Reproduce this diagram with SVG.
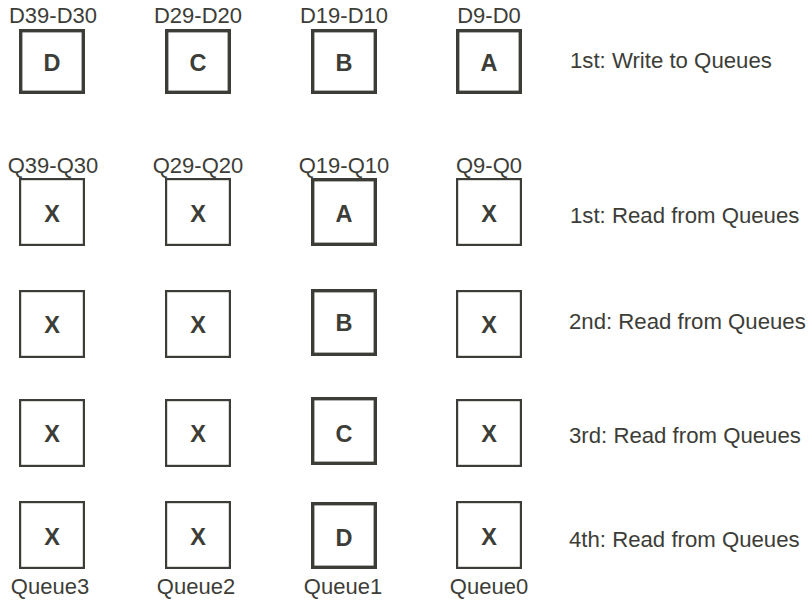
<svg xmlns="http://www.w3.org/2000/svg" width="812" height="601" viewBox="0 0 812 601">
<style>
.thin{fill:#fff;stroke:#3d3d38;stroke-width:2.2}
.thick{fill:#fff;stroke:#3d3d38;stroke-width:3.4}
.lbl{font-family:"Liberation Sans",Arial,sans-serif;font-size:22px;fill:#3d3d38;text-anchor:middle}
.side{font-family:"Liberation Sans",Arial,sans-serif;font-size:22.2px;fill:#3d3d38}
.big{font-family:"Liberation Sans",Arial,sans-serif;font-size:23.5px;font-weight:bold;fill:#3d3d38;text-anchor:middle}
</style>
<rect width="812" height="601" fill="#fff"/>
<g id="labels-top">
<text class="lbl" x="53" y="23">D39-D30</text>
<text class="lbl" x="198" y="23">D29-D20</text>
<text class="lbl" x="344" y="23">D19-D10</text>
<text class="lbl" x="489" y="23">D9-D0</text>
<text class="lbl" x="53" y="173">Q39-Q30</text>
<text class="lbl" x="198" y="173">Q29-Q20</text>
<text class="lbl" x="344" y="173">Q19-Q10</text>
<text class="lbl" x="489" y="173">Q9-Q0</text>
<text class="lbl" x="50" y="594">Queue3</text>
<text class="lbl" x="196" y="594">Queue2</text>
<text class="lbl" x="343" y="594">Queue1</text>
<text class="lbl" x="489" y="594">Queue0</text>
</g>
<g id="labels-side">
<text class="side" x="570" y="68">1st: Write to Queues</text>
<text class="side" x="570" y="223">1st: Read from Queues</text>
<text class="side" x="569" y="329">2nd: Read from Queues</text>
<text class="side" x="569" y="443">3rd: Read from Queues</text>
<text class="side" x="569" y="547">4th: Read from Queues</text>
</g>
<g id="row1">
<g id="d3"><rect class="thick" x="20.7" y="30.7" width="62.6" height="61.6"/><text class="big" x="52" y="71">D</text></g>
<g id="d2"><rect class="thick" x="166.7" y="30.7" width="62.6" height="61.6"/><text class="big" x="198" y="71">C</text></g>
<g id="d1"><rect class="thick" x="312.7" y="30.7" width="62.6" height="61.6"/><text class="big" x="344" y="71">B</text></g>
<g id="d0"><rect class="thick" x="457.7" y="30.7" width="62.6" height="61.6"/><text class="big" x="489" y="71">A</text></g>
</g>
<g id="row2">
<g id="r2q3"><rect class="thin" x="20.1" y="179.1" width="63.8" height="65.8"/><text class="big" x="52" y="222">X</text></g>
<g id="r2q2"><rect class="thin" x="166.1" y="179.1" width="63.8" height="65.8"/><text class="big" x="198" y="222">X</text></g>
<g id="r2q1"><rect class="thick" x="312.7" y="179.7" width="62.6" height="64.6"/><text class="big" x="344" y="222">A</text></g>
<g id="r2q0"><rect class="thin" x="457.1" y="179.1" width="63.8" height="65.8"/><text class="big" x="489" y="222">X</text></g>
</g>
<g id="row3">
<g id="r3q3"><rect class="thin" x="20.1" y="291.1" width="63.8" height="65.8"/><text class="big" x="52" y="333">X</text></g>
<g id="r3q2"><rect class="thin" x="166.1" y="291.1" width="63.8" height="65.8"/><text class="big" x="198" y="333">X</text></g>
<g id="r3q1"><rect class="thick" x="312.7" y="290.7" width="62.6" height="63.6"/><text class="big" x="344" y="331">B</text></g>
<g id="r3q0"><rect class="thin" x="457.1" y="291.1" width="63.8" height="65.8"/><text class="big" x="489" y="333">X</text></g>
</g>
<g id="row4">
<g id="r4q3"><rect class="thin" x="20.1" y="400.1" width="63.8" height="65.8"/><text class="big" x="52" y="442">X</text></g>
<g id="r4q2"><rect class="thin" x="166.1" y="400.1" width="63.8" height="65.8"/><text class="big" x="198" y="442">X</text></g>
<g id="r4q1"><rect class="thick" x="312.7" y="398.7" width="62.6" height="64.6"/><text class="big" x="344" y="442">C</text></g>
<g id="r4q0"><rect class="thin" x="457.1" y="400.1" width="63.8" height="65.8"/><text class="big" x="489" y="442">X</text></g>
</g>
<g id="row5">
<g id="r5q3"><rect class="thin" x="20.1" y="502.1" width="63.8" height="65.8"/><text class="big" x="52" y="545">X</text></g>
<g id="r5q2"><rect class="thin" x="166.1" y="502.1" width="63.8" height="65.8"/><text class="big" x="198" y="545">X</text></g>
<g id="r5q1"><rect class="thick" x="312.7" y="503.7" width="62.6" height="63.6"/><text class="big" x="344" y="546">D</text></g>
<g id="r5q0"><rect class="thin" x="457.1" y="502.1" width="63.8" height="65.8"/><text class="big" x="489" y="545">X</text></g>
</g>
<g id="connectors"/>
</svg>
